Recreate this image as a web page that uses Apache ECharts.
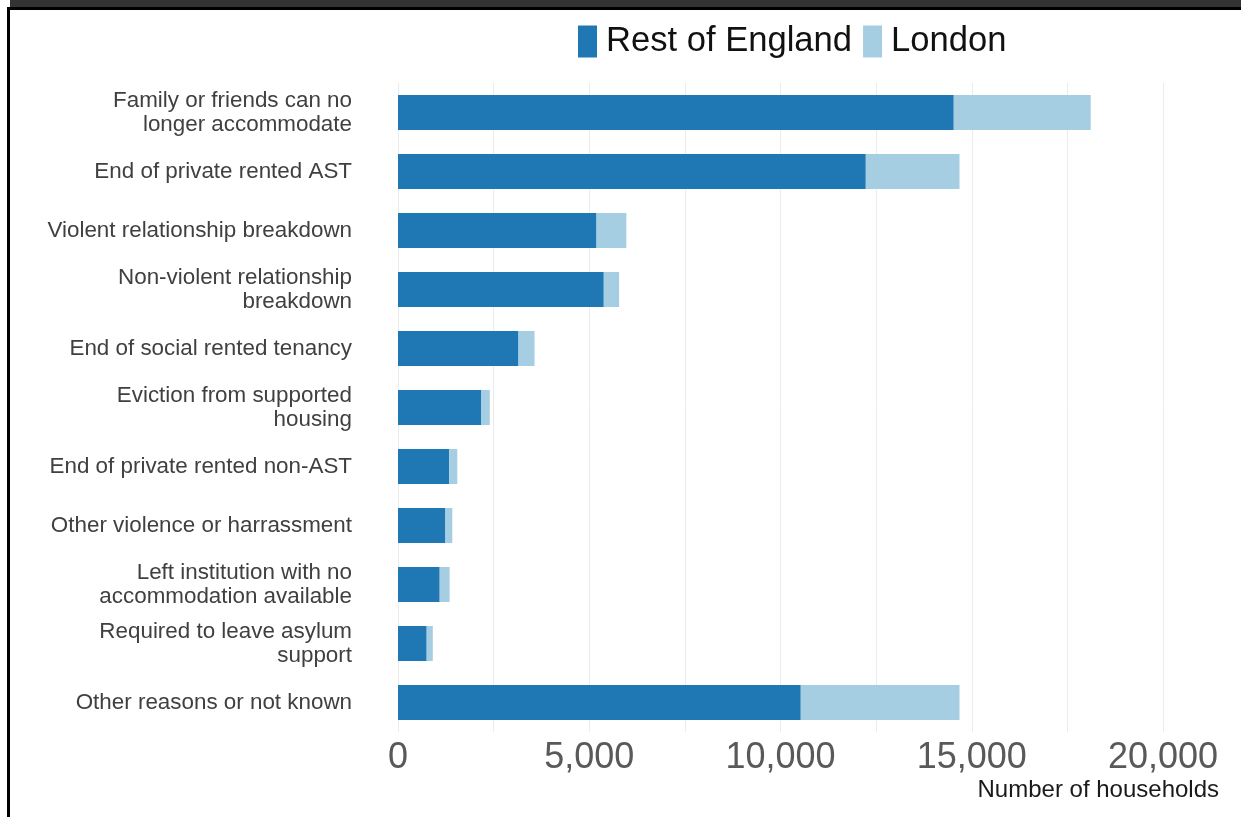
<!DOCTYPE html>
<html>
<head>
<meta charset="utf-8">
<script src="https://cdn.jsdelivr.net/npm/echarts@6/dist/echarts.min.js"></script>
<style>
  html, body { margin: 0; padding: 0; background: #ffffff; }
  #chart { width: 1241px; height: 817px; }
</style>
</head>
<body>
<div id="chart"></div>
<script>
var categories = [
  'Family or friends can no\nlonger accommodate',
  'End of private rented AST',
  'Violent relationship breakdown',
  'Non-violent relationship\nbreakdown',
  'End of social rented tenancy',
  'Eviction from supported\nhousing',
  'End of private rented non-AST',
  'Other violence or harrassment',
  'Left institution with no\naccommodation available',
  'Required to leave asylum\nsupport',
  'Other reasons or not known'
];
var restOfEngland = [14530, 12230, 5190, 5380, 3150, 2170, 1340, 1240, 1090, 750, 10530];
var london        = [3580, 2450, 780, 400, 420, 230, 210, 180, 260, 160, 4150];
var seriesNames = ['Rest of England', 'London'];
var xTickLabels = ['0', '5,000', '10,000', '15,000', '20,000'];
var xAxisTitle = 'Number of households';

var chart = echarts.init(document.getElementById('chart'), null, { renderer: 'canvas' });
var font = 'Liberation Sans, Arial, sans-serif';

chart.setOption({
  animation: false,
  backgroundColor: '#ffffff',
  textStyle: { fontFamily: font },
  legend: {
    data: seriesNames,
    left: 578,
    top: 24,
    padding: 0,
    itemWidth: 19,
    itemHeight: 32,
    itemGap: 11,
    icon: 'rect',
    textStyle: { fontSize: 34.6, color: '#111111', fontFamily: font, padding: [6, 0, 0, 4] }
  },
  grid: { left: 398, right: 78, top: 83, bottom: 85, containLabel: false },
  xAxis: {
    type: 'value',
    min: 0,
    max: 20000,
    interval: 2500,
    axisLine: { show: false },
    axisTick: { show: false },
    splitLine: { show: true, lineStyle: { color: '#ececec', width: 1 } },
    axisLabel: {
      fontSize: 36,
      color: '#595959',
      margin: 8,
      fontFamily: font,
      formatter: function (v) { return v % 5000 === 0 ? xTickLabels[v / 5000] : ''; }
    }
  },
  yAxis: {
    type: 'category',
    data: categories,
    inverse: true,
    axisLine: { show: false },
    axisTick: { show: false },
    splitLine: { show: false },
    axisLabel: { fontSize: 22.4, lineHeight: 24, color: '#404040', margin: 46, fontFamily: font, padding: [6, 0, 0, 0] }
  },
  series: [
    {
      name: seriesNames[0], type: 'bar', stack: 'total', barWidth: 35,
      itemStyle: { color: '#1f78b4' }, data: restOfEngland
    },
    {
      name: seriesNames[1], type: 'bar', stack: 'total', barWidth: 35,
      itemStyle: { color: '#a6cee3' }, data: london
    }
  ],
  graphic: [
    { type: 'rect', left: 10, top: 0, shape: { width: 1231, height: 7 }, style: { fill: '#333333' }, silent: true },
    { type: 'rect', left: 7, top: 7, shape: { width: 1234, height: 3 }, style: { fill: '#000000' }, silent: true },
    { type: 'rect', left: 7, top: 7, shape: { width: 3, height: 810 }, style: { fill: '#000000' }, silent: true },
    {
      type: 'text', right: 22, top: 778,
      style: { text: xAxisTitle, fontSize: 24, fill: '#1a1a1a', fontFamily: font }
    }
  ]
});
</script>
</body>
</html>
